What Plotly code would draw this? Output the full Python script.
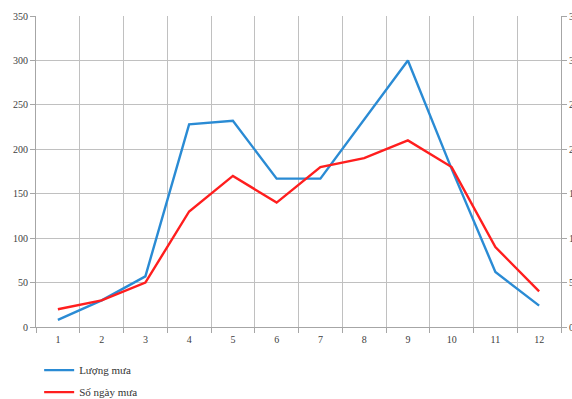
import plotly.graph_objects as go

# Monthly rainfall (mm) and number of rainy days
months = ["1", "2", "3", "4", "5", "6", "7", "8", "9", "10", "11", "12"]
rainfall = [8, 30, 57, 228, 232, 167, 167, 233, 300, 178, 62, 24]
rainy_days = [2, 3, 5, 13, 17, 14, 18, 19, 21, 18, 9, 4]

BLUE = "#2a8bd4"
RED = "#ff1e1e"
GRID = "#c0c0c0"
AXIS = "#a6a6a6"
FONT = "Liberation Serif, DejaVu Serif, serif"

fig = go.Figure()
fig.add_trace(go.Scatter(
    x=months, y=rainfall, name="Lượng mưa", mode="lines",
    line=dict(color=BLUE, width=2.4), legendgroup="a",
))
fig.add_trace(go.Scatter(
    x=months, y=rainy_days, name="Số ngày mưa", mode="lines",
    line=dict(color=RED, width=2.4), yaxis="y2", legendgroup="b",
))

fig.update_layout(
    width=572, height=399,
    margin=dict(l=36, r=11, t=16, b=72, autoexpand=False),
    paper_bgcolor="white", plot_bgcolor="white",
    font=dict(family=FONT, size=10, color="#404040"),
    showlegend=True,
    legend=dict(
        x=0.006, y=-0.092, xanchor="left", yanchor="top",
        font=dict(family=FONT, size=11, color="#333333"),
        tracegroupgap=3, bgcolor="rgba(0,0,0,0)",
    ),
    xaxis=dict(
        type="category", tickson="boundaries", range=[-0.5, 11.5],
        showgrid=True, gridcolor=GRID, gridwidth=1,
        showline=True, linecolor=AXIS, linewidth=1, mirror=False,
        ticks="outside", ticklen=5, tickcolor=AXIS,
        tickfont=dict(size=10), zeroline=False, ticklabelstandoff=3,
    ),
    yaxis=dict(
        range=[0, 350], dtick=50,
        showgrid=True, gridcolor=GRID, gridwidth=1,
        showline=True, linecolor=AXIS, linewidth=1,
        ticks="outside", ticklen=5, tickcolor=AXIS,
        tickfont=dict(size=10), zeroline=False,
    ),
    yaxis2=dict(
        range=[0, 35], dtick=5, overlaying="y", side="right",
        showgrid=False,
        showline=True, linecolor=AXIS, linewidth=1,
        ticks="outside", ticklen=5, tickcolor=AXIS,
        tickfont=dict(size=10), zeroline=False, automargin=False,
    ),
)

fig.write_html("out.html")
